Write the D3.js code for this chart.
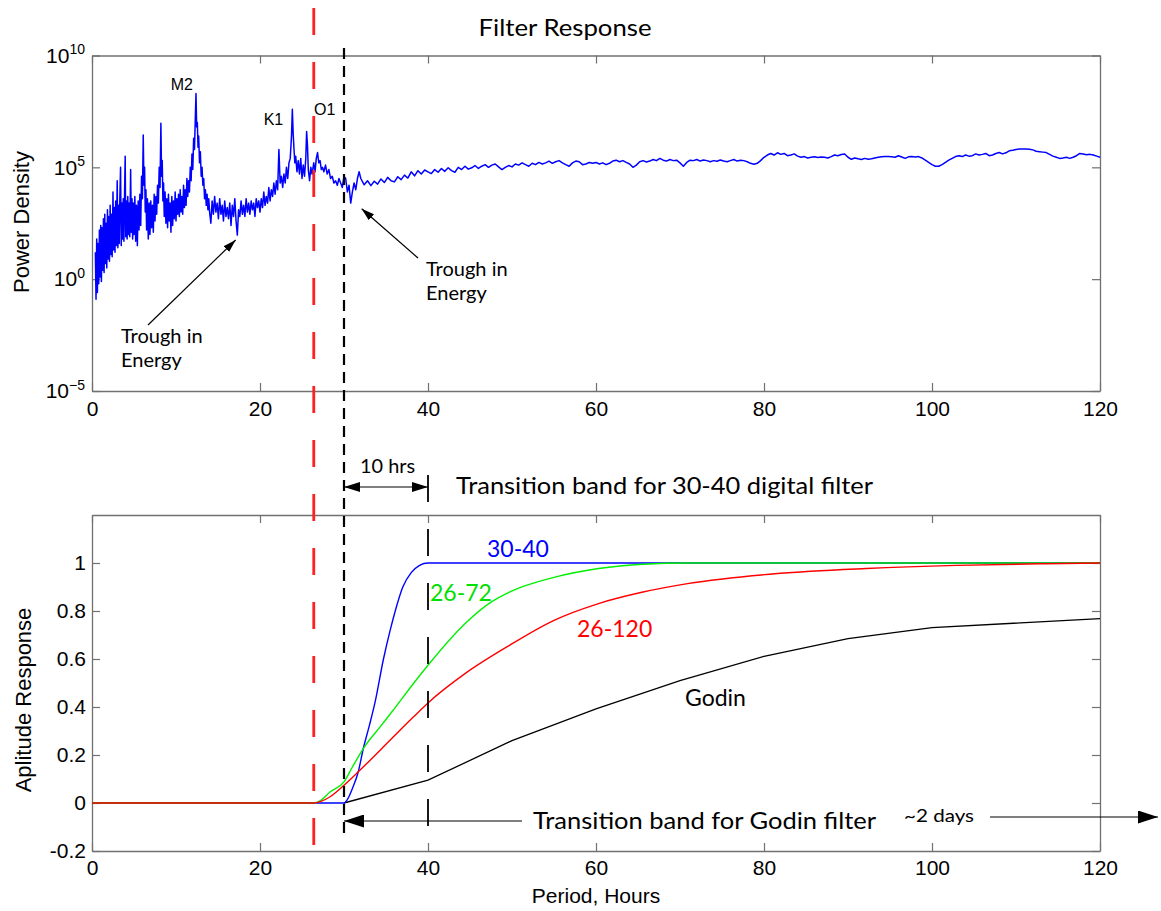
<!DOCTYPE html>
<html>
<head>
<meta charset="utf-8">
<script src="https://cdn.jsdelivr.net/npm/d3@7"></script>
<style>
  body { margin: 0; background: #fff; }
  svg { display: block; }
</style>
</head>
<body>
<svg id="chart" width="1161" height="911"></svg>
<script>
// ---------------------------------------------------------------
// Data
// ---------------------------------------------------------------

// Power spectrum, short periods: [period (hours), log10 power density]
const spectrumHead = [
  [0.40,1.2],[0.48,-0.9],[0.56,1.8],[0.64,-0.6],[0.72,1.6],[0.80,-0.2],[0.88,2.2],[0.96,0.1],
  [1.04,2.4],[1.12,-0.1],[1.20,2.3],[1.28,0.4],[1.36,2.7],[1.44,0.3],[1.52,2.9],[1.60,0.7],
  [1.68,2.5],[1.76,0.5],[1.84,3.1],[1.92,0.9],[2.00,2.8],[2.08,0.8],[2.16,3.3],[2.24,1.1],
  [2.32,2.9],[2.40,1.0],[2.50,3.9],[2.58,1.3],[2.66,3.2],[2.74,1.2],[2.82,3.5],[2.90,1.5],
  [3.00,4.4],[3.08,1.4],[3.16,3.3],[3.24,1.6],[3.32,3.7],[3.40,5.0],[3.48,1.5],[3.56,3.4],
  [3.64,1.8],[3.72,3.6],[3.80,1.7],[3.88,3.9],[3.95,5.5],[4.02,1.9],[4.10,3.5],[4.18,1.8],
  [4.26,3.7],[4.34,2.0],[4.42,3.4],[4.50,1.9],[4.60,4.9],[4.68,2.1],[4.76,3.6],[4.84,1.8],
  [4.92,3.4],[5.00,2.0],[5.10,3.7],[5.20,1.7],[5.30,3.3],[5.40,1.5],[5.50,3.5],[5.60,2.2],
  [5.70,3.8],[5.80,2.4],[5.90,4.6],[6.00,3.6],[6.10,6.45],[6.18,4.2],[6.26,5.0],[6.34,3.0],
  [6.42,4.0],[6.50,2.2],[6.60,3.6],[6.70,1.8],[6.80,3.4],[6.90,2.0],[7.00,3.5],[7.10,2.3],
  [7.20,3.3],[7.30,2.1],[7.40,3.8],[7.50,2.6],[7.60,3.7],[7.70,2.9],[7.80,4.2],[7.90,3.4],
  [8.00,5.0],[8.10,4.1],[8.20,6.97],[8.28,4.6],[8.36,5.3],[8.44,3.5],[8.52,4.3],[8.60,2.8],
  [8.70,3.9],[8.80,2.5],[8.90,3.6],[9.00,2.3],[9.10,3.8],[9.20,2.6],[9.30,3.4],[9.40,2.1],
  [9.50,3.7],[9.60,2.4],[9.70,3.5],[9.80,2.7],[9.90,3.9],[10.00,2.6],[10.10,3.6],[10.20,2.9],
  [10.30,3.8],[10.40,2.8],[10.50,4.0],[10.60,3.0],[10.70,3.7],[10.80,2.9],[10.90,4.2],[11.00,3.2],
  [11.10,4.0],[11.20,3.3],[11.30,4.5],[11.40,3.7],[11.50,4.4],[11.60,3.9],[11.70,5.0],[11.80,4.4],
  [11.90,5.6],[12.00,4.9],[12.10,6.3],[12.20,5.8],[12.30,7.2],[12.38,8.3],[12.46,6.8],[12.54,7.0],
  [12.62,5.9],[12.70,6.4],[12.80,5.2],[12.90,5.7],[13.00,4.6],[13.10,5.0],[13.20,4.2],[13.30,4.5],
  [13.40,3.6],[13.50,4.0],[13.60,3.3],[13.70,3.8],[13.80,3.1],[13.90,3.6],[14.00,3.0],[14.15,2.5],
  [14.30,3.5],[14.45,2.9],[14.60,3.7],[14.75,3.0],[14.90,3.4],[15.05,2.7],[15.20,3.6],[15.35,2.9],
  [15.50,3.3],[15.65,2.6],[15.80,3.5],[15.95,2.8],[16.10,3.2],[16.25,2.7],[16.40,3.4],[16.55,2.4],
  [16.70,3.3],[16.85,2.8],[17.00,3.6],[17.15,2.6],[17.30,1.97],[17.45,3.1],[17.60,2.8],[17.75,3.5],
  [17.90,2.9],[18.05,3.3],[18.20,2.8],[18.35,3.6],[18.50,3.0],[18.65,3.4],[18.80,2.9],[18.95,3.5],
  [19.10,3.1],[19.25,3.4],[19.40,2.8],[19.55,3.6],[19.70,3.2],[19.85,3.5],[20.00,3.0],[20.15,3.6],
  [20.30,3.2],[20.45,3.9],[20.60,3.3],[20.75,3.7],[20.90,3.4],[21.05,4.1],[21.20,3.5],[21.35,4.0],
  [21.50,3.7],[21.65,4.3],[21.80,3.8],[21.95,4.4],[22.10,4.0],[22.25,5.8],[22.40,4.3],[22.55,4.6],
  [22.70,4.1],[22.85,4.7],[23.00,4.3],[23.15,5.0],[23.30,4.5],[23.45,5.2],[23.60,5.4],[23.75,6.4],
  [23.85,7.6],[23.95,6.5],[24.05,5.8],[24.15,5.2],[24.25,5.5],[24.40,4.8],[24.55,5.3],[24.70,4.7],
  [24.85,5.4],[25.00,4.5],[25.15,5.1],[25.30,4.6],[25.45,5.4],[25.55,6.6],[25.65,6.0],[25.75,4.9],
  [25.90,4.4],[26.05,5.0],[26.20,4.7],[26.40,5.2],[26.55,4.8],[26.70,5.4],[26.85,5.66],[27.00,5.2],
  [27.15,5.3],[27.30,4.9],[27.45,5.0],[27.60,4.8],[27.80,5.1],[28.00,4.7],[28.20,4.9],[28.40,4.5],
  [28.60,4.6],[28.80,4.3],[29.00,4.4],[29.20,4.2],[29.40,4.5],[29.60,4.3],[29.80,4.1],[30.00,4.6],
  [30.20,4.5],[30.40,3.9],[30.60,4.2],[30.80,3.4],[31.00,3.9],[31.20,4.3],[31.40,4.0],[31.60,4.5],
  [31.80,4.8]
];

// Power spectrum, longer periods: log10 power density sampled every 0.4 h from 32 h to 120 h
const tailStartPeriod = 32;
const tailPeriodStep = 0.4;
const spectrumTail = [
  4.50,4.22,4.40,4.18,4.38,4.25,4.48,4.32,4.55,4.40,
  4.35,4.58,4.45,4.65,4.52,4.80,4.62,4.85,4.70,4.88,
  4.80,4.72,4.90,4.78,4.95,4.82,4.98,4.85,4.78,5.00,
  4.90,5.05,4.92,4.98,5.08,4.95,5.05,5.12,5.00,5.10,
  5.15,5.02,4.90,5.00,5.08,5.02,5.15,5.10,5.20,5.12,
  5.05,5.18,5.12,5.22,5.15,5.20,5.28,5.18,5.25,5.30,
  5.20,5.12,5.05,5.20,5.28,5.25,5.12,5.15,5.22,5.18,
  5.22,5.15,5.20,5.12,5.18,5.28,5.32,5.25,5.30,5.22,
  5.15,5.00,5.10,5.25,5.30,5.24,5.28,5.35,5.30,5.40,
  5.32,5.28,5.35,5.30,5.32,5.20,5.05,5.22,5.32,5.30,
  5.35,5.28,5.33,5.30,5.25,5.30,5.27,5.33,5.28,5.25,
  5.30,5.35,5.28,5.32,5.30,5.25,5.18,5.14,5.18,5.30,
  5.45,5.55,5.62,5.55,5.65,5.58,5.62,5.52,5.55,5.60,
  5.50,5.45,5.48,5.42,5.45,5.47,5.44,5.46,5.45,5.42,
  5.48,5.55,5.52,5.57,5.60,5.45,5.36,5.42,5.38,5.35,
  5.40,5.36,5.38,5.42,5.45,5.47,5.48,5.48,5.47,5.45,
  5.52,5.46,5.40,5.47,5.48,5.46,5.48,5.42,5.32,5.22,
  5.12,5.05,5.05,5.12,5.22,5.32,5.40,5.48,5.52,5.48,
  5.55,5.50,5.52,5.60,5.55,5.58,5.62,5.52,5.55,5.62,
  5.66,5.60,5.65,5.74,5.76,5.80,5.82,5.82,5.82,5.81,
  5.78,5.72,5.70,5.68,5.66,5.58,5.50,5.45,5.40,5.42,
  5.45,5.40,5.45,5.52,5.62,5.60,5.56,5.58,5.55,5.50,
  5.45
];

// Amplitude response of each filter: [period (hours), response]
const resp3040 = [[0,0],[30,0],[30.5,0.02],[31,0.06],[31.7,0.13],[32.3,0.227],[33,0.32],[33.7,0.42],
  [34.7,0.6],[35.5,0.72],[36.1,0.8],[37,0.9],[38,0.96],[39,0.99],[40,1],[120,1]];
const resp2672 = [[0,0],[26.4,0],[27.2,0.01],[28.3,0.045],[30,0.088],[31,0.15],[32.3,0.227],[34.3,0.317],
  [36.3,0.407],[38.25,0.497],[40,0.574],[44.4,0.747],[47.5,0.837],[49.7,0.879],[55,0.94],[60.3,0.977],
  [65.6,0.995],[71,1],[120,1]];
const resp26120 = [[0,0],[26.4,0],[27.2,0.006],[28.3,0.025],[30,0.074],[31.7,0.13],[34.3,0.22],[38.25,0.358],
  [40,0.417],[44.4,0.539],[49.7,0.657],[55,0.761],[60.3,0.831],[65.6,0.879],[70.9,0.914],[81.6,0.956],
  [92.2,0.977],[102.9,0.99],[113.5,0.997],[120,1]];
const respGodin = [[30,0],[40,0.095],[50,0.26],[60,0.392],[70,0.51],[80,0.611],[90,0.685],[100,0.731],[120,0.768]];

// Axis ticks
const periodTicks = [0, 20, 40, 60, 80, 100, 120];
const powerExponents = [-5, 0, 5, 10];
const responseTicks = [-0.2, 0, 0.2, 0.4, 0.6, 0.8, 1];

// Tidal constituents: name, label period, label log10 level
const tideNames = ["M2", "K1", "O1"];
const tideLabelPeriods = [10.7, 21.6, 27.7];
const tideLabelLevels = [8.45, 6.9, 7.35];

// Reference periods (hours)
const cutoffPeriod = 26.4;
const bandStart = 30;
const bandEnd = 40;

// ---------------------------------------------------------------
// Drawing
// ---------------------------------------------------------------
const svg = d3.select("#chart");
const axisFont = "'Liberation Sans', Arial, Helvetica, sans-serif";
const noteFont = "Lato, 'Open Sans', sans-serif";
const axisColor = "#707070";

const x = d3.scaleLinear().domain([0, 120]).range([92, 1100]);
const yPow = d3.scaleLog().domain([1e-5, 1e10]).range([391, 55.5]);
const yAmp = d3.scaleLinear().domain([-0.2, 1.2]).range([851, 515]);

const spectrum = spectrumHead.concat(
  spectrumTail.map((v, i) => [tailStartPeriod + i * tailPeriodStep, v]));

function styleAxis(g, size) {
  g.selectAll(".domain").attr("stroke", axisColor).attr("stroke-width", 1.3);
  g.selectAll(".tick line").attr("stroke", axisColor).attr("stroke-width", 1.2);
  g.selectAll(".tick text").attr("font-family", axisFont).attr("font-size", size || 21).attr("fill", "#000");
}

// Arrow heads
const defs = svg.append("defs");
function arrowMarker(id, len, half) {
  defs.append("marker")
    .attr("id", id)
    .attr("viewBox", `0 0 ${len} ${2 * half}`)
    .attr("refX", len).attr("refY", half)
    .attr("markerWidth", len).attr("markerHeight", 2 * half)
    .attr("markerUnits", "userSpaceOnUse")
    .attr("orient", "auto-start-reverse")
    .append("path")
    .attr("d", `M0,0L${len},${half}L0,${2 * half}Z`)
    .attr("fill", "#000");
}
arrowMarker("headSmall", 13, 4);
arrowMarker("headMid", 16, 5);
arrowMarker("headBig", 20, 6.5);

// ----- Top panel: power spectrum -----
const topG = svg.append("g");

const gx1 = topG.append("g").attr("transform", "translate(0,391)")
  .call(d3.axisBottom(x).tickValues(periodTicks).tickSize(-8).tickSizeOuter(0).tickPadding(10));
styleAxis(gx1);
const gx1t = topG.append("g").attr("transform", "translate(0,55.5)")
  .call(d3.axisTop(x).tickValues(periodTicks).tickSize(-8).tickSizeOuter(0).tickFormat(""));
styleAxis(gx1t);
const gy1 = topG.append("g").attr("transform", "translate(92,0)")
  .call(d3.axisLeft(yPow).tickValues(powerExponents.map(e => Math.pow(10, e))).tickSize(-8).tickSizeOuter(0).tickPadding(7));
styleAxis(gy1);
gy1.selectAll(".tick text").each(function (d) {
  const e = Math.round(Math.log10(d));
  const t = d3.select(this).text(null);
  t.append("tspan").text("10");
  t.append("tspan").attr("dy", "-0.62em").attr("font-size", 14).text(e < 0 ? "\u2212" + (-e) : String(e));
});
const gy1r = topG.append("g").attr("transform", "translate(1100,0)")
  .call(d3.axisRight(yPow).tickValues(powerExponents.map(e => Math.pow(10, e))).tickSize(-8).tickSizeOuter(0).tickFormat(""));
styleAxis(gy1r);

topG.append("path")
  .datum(spectrum)
  .attr("fill", "none")
  .attr("stroke", "#0000ff")
  .attr("stroke-width", 1.5)
  .attr("stroke-linejoin", "round")
  .attr("d", d3.line().x(d => x(d[0])).y(d => yPow(Math.pow(10, d[1]))));

topG.append("text")
  .attr("transform", "translate(29,222) rotate(-90)")
  .attr("text-anchor", "middle")
  .attr("font-family", axisFont).attr("font-size", 22)
  .text("Power Density");

svg.append("text")
  .attr("x", 565).attr("y", 36)
  .attr("text-anchor", "middle")
  .attr("font-family", noteFont).attr("font-size", 24)
  .attr("textLength", 173).attr("lengthAdjust", "spacingAndGlyphs")
  .text("Filter Response");

// Tidal constituent labels
tideNames.forEach((name, i) => {
  topG.append("text")
    .attr("x", x(tideLabelPeriods[i])).attr("y", yPow(Math.pow(10, tideLabelLevels[i])))
    .attr("text-anchor", "middle")
    .attr("font-family", axisFont).attr("font-size", 16)
    .text(name);
});

// Trough annotations
function twoLine(xp, yp, lines, size) {
  const t = svg.append("text").attr("font-family", noteFont).attr("font-size", size);
  lines.forEach((s, i) => t.append("tspan").attr("x", xp).attr("y", yp + i * 24).text(s));
}
twoLine(121, 343, ["Trough in", "Energy"], 20);
svg.append("line")
  .attr("x1", 148).attr("y1", 325).attr("x2", x(17.1)).attr("y2", yPow(Math.pow(10, 1.75)))
  .attr("stroke", "#000").attr("stroke-width", 1.2).attr("marker-end", "url(#headSmall)");

twoLine(426, 276, ["Trough in", "Energy"], 20);
svg.append("line")
  .attr("x1", 418).attr("y1", 258).attr("x2", x(32.1)).attr("y2", yPow(Math.pow(10, 3.15)))
  .attr("stroke", "#000").attr("stroke-width", 1.2).attr("marker-end", "url(#headSmall)");

// ----- Bottom panel: amplitude response -----
const botG = svg.append("g");
const gx2 = botG.append("g").attr("transform", "translate(0,851)")
  .call(d3.axisBottom(x).tickValues(periodTicks).tickSize(-8).tickSizeOuter(0).tickPadding(9));
styleAxis(gx2);
const gx2t = botG.append("g").attr("transform", "translate(0,515)")
  .call(d3.axisTop(x).tickValues(periodTicks).tickSize(-8).tickSizeOuter(0).tickFormat(""));
styleAxis(gx2t);
const gy2 = botG.append("g").attr("transform", "translate(92,0)")
  .call(d3.axisLeft(yAmp).tickValues(responseTicks).tickSize(-8).tickSizeOuter(0).tickPadding(6)
    .tickFormat(d => d === 0 ? "0" : String(+d.toFixed(1))));
styleAxis(gy2);
const gy2r = botG.append("g").attr("transform", "translate(1100,0)")
  .call(d3.axisRight(yAmp).tickValues(responseTicks).tickSize(-8).tickSizeOuter(0).tickFormat(""));
styleAxis(gy2r);

const smooth = d3.line().x(d => x(d[0])).y(d => yAmp(d[1])).curve(d3.curveMonotoneX);
const straight = d3.line().x(d => x(d[0])).y(d => yAmp(d[1]));

botG.append("path").datum(respGodin).attr("fill", "none").attr("stroke", "#000").attr("stroke-width", 1.3).attr("d", straight);
botG.append("path").datum(resp3040).attr("fill", "none").attr("stroke", "#0000ff").attr("stroke-width", 1.4).attr("d", smooth);
botG.append("path").datum(resp2672).attr("fill", "none").attr("stroke", "#00f000").attr("stroke-width", 1.4).attr("d", smooth);
botG.append("path").datum(resp26120).attr("fill", "none").attr("stroke", "#ff0000").attr("stroke-width", 1.4).attr("d", smooth);

// Curve labels
[["30-40", 487, 557, "#0000ff"], ["26-72", 430, 601, "#00e000"], ["26-120", 577, 637, "#ff0000"], ["Godin", 685, 706, "#000"]]
  .forEach(([s, xp, yp, c]) => {
    botG.append("text").attr("x", xp).attr("y", yp)
      .attr("font-family", noteFont).attr("font-size", 23).attr("fill", c).text(s);
  });

botG.append("text")
  .attr("transform", "translate(31,700) rotate(-90)")
  .attr("text-anchor", "middle")
  .attr("font-family", axisFont).attr("font-size", 22)
  .text("Aplitude Response");

svg.append("text")
  .attr("x", x(60)).attr("y", 903)
  .attr("text-anchor", "middle")
  .attr("font-family", axisFont).attr("font-size", 21)
  .text("Period, Hours");

// ----- Reference lines across both panels -----
svg.append("line")
  .attr("x1", x(cutoffPeriod)).attr("x2", x(cutoffPeriod)).attr("y1", 8).attr("y2", 856)
  .attr("stroke", "#ff2020").attr("stroke-width", 2.8).attr("stroke-dasharray", "27,27");
svg.append("line")
  .attr("x1", x(bandStart)).attr("x2", x(bandStart)).attr("y1", 48).attr("y2", 836)
  .attr("stroke", "#000").attr("stroke-width", 2.2).attr("stroke-dasharray", "11,7");
svg.append("line")
  .attr("x1", x(bandEnd)).attr("x2", x(bandEnd)).attr("y1", 475).attr("y2", 832)
  .attr("stroke", "#000").attr("stroke-width", 1.8).attr("stroke-dasharray", "27,27");

// 10 hour transition band arrow
svg.append("line")
  .attr("x1", x(bandStart)).attr("x2", x(bandEnd)).attr("y1", 487).attr("y2", 487)
  .attr("stroke", "#000").attr("stroke-width", 1.2)
  .attr("marker-start", "url(#headMid)").attr("marker-end", "url(#headMid)");
svg.append("text").attr("x", 360).attr("y", 473)
  .attr("font-family", noteFont).attr("font-size", 19)
  .attr("textLength", 55).attr("lengthAdjust", "spacingAndGlyphs")
  .text("10 hrs");
svg.append("text").attr("x", 456).attr("y", 494)
  .attr("font-family", noteFont).attr("font-size", 24)
  .attr("textLength", 417).attr("lengthAdjust", "spacingAndGlyphs")
  .text("Transition band for 30-40 digital filter");

// Godin transition band arrows
svg.append("line")
  .attr("x1", 522).attr("x2", x(bandStart)).attr("y1", 821).attr("y2", 821)
  .attr("stroke", "#000").attr("stroke-width", 1.2).attr("marker-end", "url(#headBig)");
svg.append("text").attr("x", 533).attr("y", 829)
  .attr("font-family", noteFont).attr("font-size", 24)
  .attr("textLength", 343).attr("lengthAdjust", "spacingAndGlyphs")
  .text("Transition band for Godin filter");
svg.append("text").attr("x", 904).attr("y", 822)
  .attr("font-family", noteFont).attr("font-size", 18)
  .attr("textLength", 70).attr("lengthAdjust", "spacingAndGlyphs")
  .text("~2 days");
svg.append("line")
  .attr("x1", 990).attr("x2", 1158).attr("y1", 817).attr("y2", 817)
  .attr("stroke", "#000").attr("stroke-width", 1.2).attr("marker-end", "url(#headBig)");
</script>
</body>
</html>
